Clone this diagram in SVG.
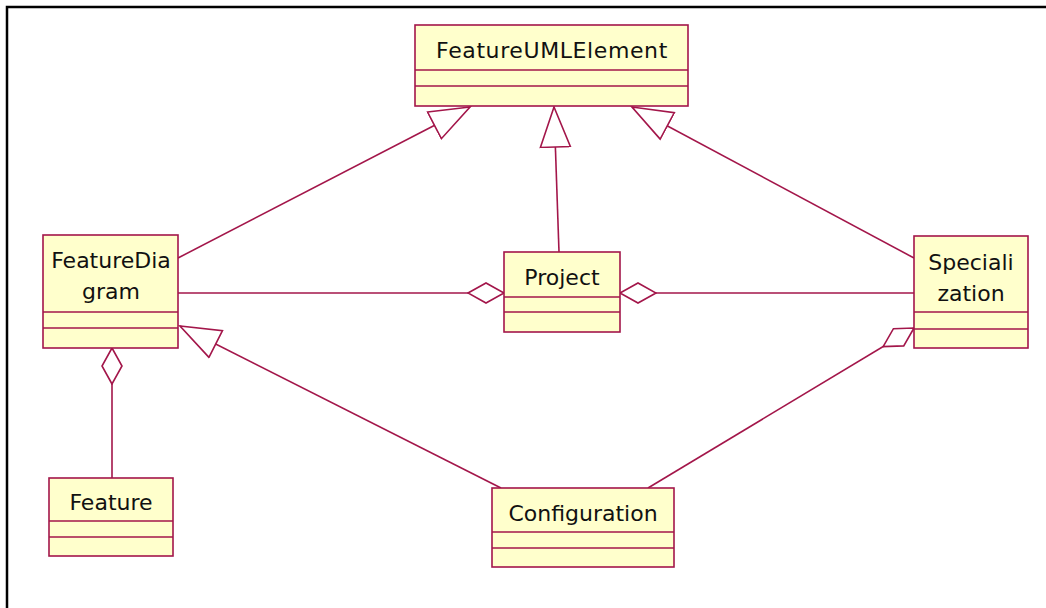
<svg xmlns="http://www.w3.org/2000/svg" width="1046" height="608" viewBox="0 0 1046 608">
  <style>
    .box { fill: #ffffcc; stroke: #a3164a; stroke-width: 1.6; }
    .div { stroke: #a3164a; stroke-width: 1.6; }
    .lbl { font-family: "DejaVu Sans", "Liberation Sans", sans-serif; font-size: 22px; fill: #111111; text-anchor: middle; }
    .edge { fill: none; stroke: #a3164a; stroke-width: 1.6; }
  </style>
  <defs>
    <!-- hollow triangle for generalization -->
    <marker id="gen" markerUnits="userSpaceOnUse" viewBox="0 0 44 34" markerWidth="44" markerHeight="34" refX="41" refY="17" orient="auto">
      <path d="M1,2 L41,17 L1,32 Z" fill="#ffffff" stroke="#a3164a" stroke-width="1.6"/>
    </marker>
    <!-- hollow diamond for aggregation -->
    <marker id="agg" markerUnits="userSpaceOnUse" viewBox="0 0 40 24" markerWidth="40" markerHeight="24" refX="37" refY="12" orient="auto">
      <path d="M1,12 L19,2 L37,12 L19,22 Z" fill="#ffffff" stroke="#a3164a" stroke-width="1.6"/>
    </marker>
  </defs>

  <rect width="1046" height="608" fill="#ffffff"/>
  <path d="M7,608 V7 H1046" fill="none" stroke="#000000" stroke-width="2.5"/>

  <g id="connectors">
    <line class="edge" x1="178" y1="258" x2="470" y2="107" marker-end="url(#gen)"/>
    <line class="edge" x1="559" y1="252" x2="554" y2="107" marker-end="url(#gen)"/>
    <line class="edge" x1="914" y1="258" x2="632" y2="107" marker-end="url(#gen)"/>
    <line class="edge" x1="178" y1="293" x2="504" y2="293" marker-end="url(#agg)"/>
    <line class="edge" x1="914" y1="293" x2="620" y2="293" marker-end="url(#agg)"/>
    <line class="edge" x1="112" y1="478" x2="112" y2="348" marker-end="url(#agg)"/>
    <line class="edge" x1="501" y1="488" x2="180" y2="326" marker-end="url(#gen)"/>
    <line class="edge" x1="648" y1="488" x2="914" y2="328" marker-end="url(#agg)"/>
  </g>

  <g id="FeatureUMLElement">
    <rect class="box" x="415" y="25" width="273" height="81"/>
    <line class="div" x1="415" y1="70" x2="688" y2="70"/>
    <line class="div" x1="415" y1="86" x2="688" y2="86"/>
    <text class="lbl" x="552" y="58" letter-spacing="0.6">FeatureUMLElement</text>
  </g>

  <g id="FeatureDiagram">
    <rect class="box" x="43" y="235" width="135" height="113"/>
    <line class="div" x1="43" y1="312" x2="178" y2="312"/>
    <line class="div" x1="43" y1="328" x2="178" y2="328"/>
    <text class="lbl" x="111" y="268">FeatureDia</text>
    <text class="lbl" x="111" y="299">gram</text>
  </g>

  <g id="Project">
    <rect class="box" x="504" y="252" width="116" height="80"/>
    <line class="div" x1="504" y1="297" x2="620" y2="297"/>
    <line class="div" x1="504" y1="312" x2="620" y2="312"/>
    <text class="lbl" x="562" y="285">Project</text>
  </g>

  <g id="Specialization">
    <rect class="box" x="914" y="236" width="114" height="112"/>
    <line class="div" x1="914" y1="312" x2="1028" y2="312"/>
    <line class="div" x1="914" y1="329" x2="1028" y2="329"/>
    <text class="lbl" x="971" y="270">Speciali</text>
    <text class="lbl" x="971" y="301">zation</text>
  </g>

  <g id="Feature">
    <rect class="box" x="49" y="478" width="124" height="78"/>
    <line class="div" x1="49" y1="521" x2="173" y2="521"/>
    <line class="div" x1="49" y1="537" x2="173" y2="537"/>
    <text class="lbl" x="111" y="510">Feature</text>
  </g>

  <g id="Configuration">
    <rect class="box" x="492" y="488" width="182" height="79"/>
    <line class="div" x1="492" y1="532" x2="674" y2="532"/>
    <line class="div" x1="492" y1="548" x2="674" y2="548"/>
    <text class="lbl" x="583" y="521">Configuration</text>
  </g>
</svg>
